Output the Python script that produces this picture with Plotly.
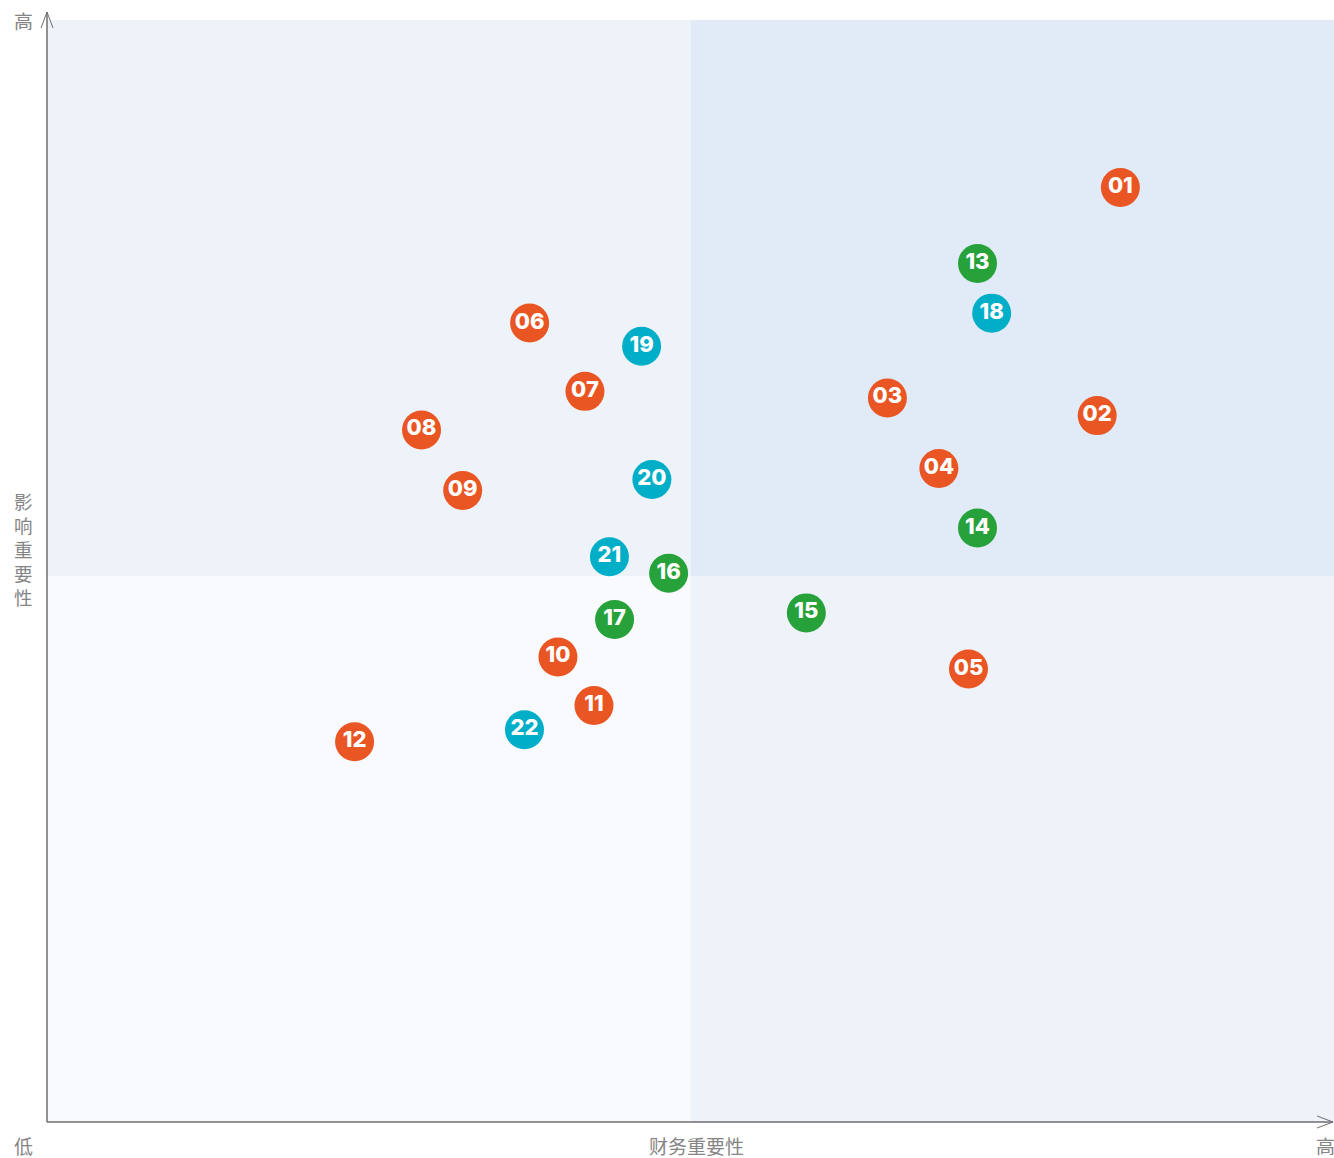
import plotly.graph_objects as go

labels = ["01","02","03","04","05","06","07","08","09","10","11","12",
          "13","14","15","16","17","18","19","20","21","22"]
fin_x = [83.4,81.6,65.3,69.3,71.6,37.5,41.8,29.1,32.3,39.7,42.5,23.9,
         72.3,72.3,59.0,48.3,44.1,73.4,46.2,47.0,43.7,37.1]
imp_y = [84.8,64.1,65.7,59.3,41.1,72.5,66.3,62.8,57.3,42.2,37.8,34.5,
         77.9,53.9,46.2,49.8,45.6,73.4,70.4,58.3,51.3,35.6]
groups = ["o"]*12 + ["g"]*5 + ["c"]*5
group_colors = {"o": "#EA5524", "g": "#27A13A", "c": "#00AEC7"}
x_split, y_split = 50, 49.5

W, H = 1334, 1158
L, R, T, B = 47, 0, 20, 36
pw, ph = W - L - R, H - T - B

def px(x):  # pixel -> paper x
    return (x - L) / pw
def py(y):  # pixel -> paper y
    return (H - B - y) / ph

fig = go.Figure()
for g in ["o", "g", "c"]:
    idx = [i for i, gg in enumerate(groups) if gg == g]
    fig.add_trace(go.Scatter(
        x=[fin_x[i] for i in idx], y=[imp_y[i] for i in idx],
        text=[labels[i] for i in idx], mode="markers+text",
        textposition="middle center",
        marker=dict(size=39, color=group_colors[g], line=dict(width=0)),
        textfont=dict(family="Inter", size=22, color="white", weight=800),
        showlegend=False, hoverinfo="skip", cliponaxis=False))

shapes = [
    dict(type="rect", xref="x", yref="y", x0=0, x1=x_split, y0=y_split, y1=100, fillcolor="#EEF3FA", line_width=0, layer="below"),
    dict(type="rect", xref="x", yref="y", x0=x_split, x1=100, y0=y_split, y1=100, fillcolor="#E1EBF7", line_width=0, layer="below"),
    dict(type="rect", xref="x", yref="y", x0=0, x1=x_split, y0=0, y1=y_split, fillcolor="#F8FAFD", line_width=0, layer="below"),
    dict(type="rect", xref="x", yref="y", x0=x_split, x1=100, y0=0, y1=y_split, fillcolor="#EEF3FA", line_width=0, layer="below"),
]
axc = "#6E6E6E"
shapes.append(dict(type="line", xref="paper", yref="paper", x0=0, x1=0, y0=0, y1=py(12), line=dict(color=axc, width=1.5)))
shapes.append(dict(type="path", xref="paper", yref="paper",
                   path=f"M {px(41)},{py(28)} L {px(47)},{py(12)} L {px(53)},{py(28)}",
                   line=dict(color=axc, width=1)))
shapes.append(dict(type="line", xref="paper", yref="paper", x0=0, x1=px(1333), y0=0, y1=0, line=dict(color=axc, width=1.5)))
shapes.append(dict(type="path", xref="paper", yref="paper",
                   path=f"M {px(1317)},{py(1116)} L {px(1333)},{py(1122)} L {px(1317)},{py(1128)}",
                   line=dict(color=axc, width=1)))

tf = dict(family="Noto Sans CJK SC", size=19, color="#858585")

def ann(text, x, y, font=tf):
    return dict(text=text, x=px(x), y=py(y), xref="paper", yref="paper", showarrow=False,
                font=font, xanchor="center", yanchor="middle")

annotations = [ann("高", 23, 21), ann("低", 23, 1145), ann("财务重要性", 696, 1145), ann("高", 1325, 1145),
               ann("<br>".join("影响重要性"), 23, 549, dict(tf, size=18.5))]

fig.update_layout(
    width=W, height=H, margin=dict(l=L, r=R, t=T, b=B),
    paper_bgcolor="white", plot_bgcolor="white",
    xaxis=dict(range=[0, 100], showgrid=False, zeroline=False, showticklabels=False, showline=False, fixedrange=True),
    yaxis=dict(range=[0, 100], showgrid=False, zeroline=False, showticklabels=False, showline=False, fixedrange=True),
    shapes=shapes, annotations=annotations,
)
fig.write_html("out.html", config={"displayModeBar": False},
               post_script="document.body.style.margin='0';document.body.style.overflow='hidden';")
